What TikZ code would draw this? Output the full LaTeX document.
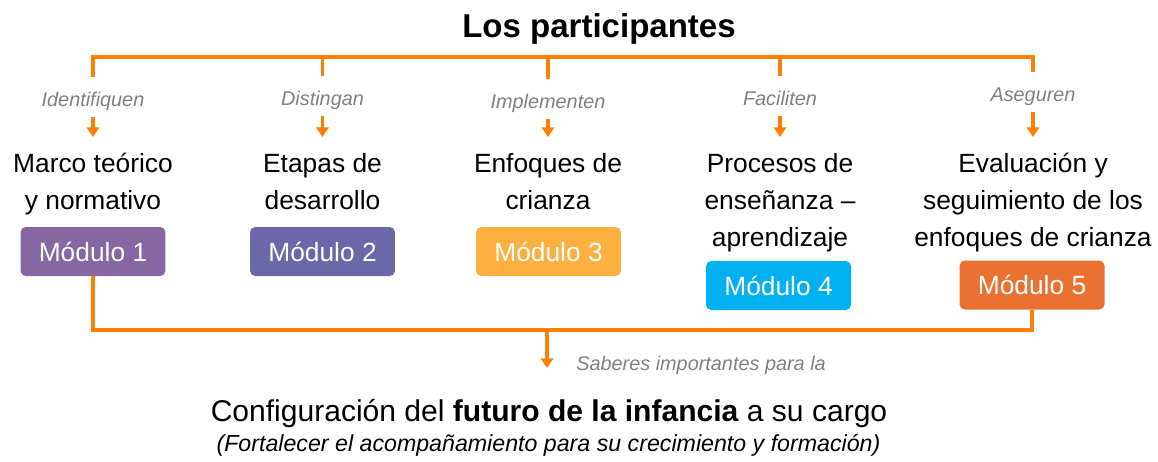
\documentclass[tikz,border=0pt]{standalone}
\usepackage{fontspec}
\setmainfont{Liberation Sans}
\usetikzlibrary{arrows.meta,positioning}
\definecolor{naranja}{RGB}{255,128,0}
\definecolor{gris}{RGB}{128,128,128}
\definecolor{modA}{RGB}{135,102,164}
\definecolor{modB}{RGB}{108,103,169}
\definecolor{modC}{RGB}{251,176,64}
\definecolor{modD}{RGB}{0,176,240}
\definecolor{modE}{RGB}{233,113,50}

\begin{document}
\begin{tikzpicture}[x=0.02cm, y=-0.02cm]
  \tikzstyle{bracket} = [naranja, line width=1.8pt]
  \tikzstyle{arrow} = [naranja, line width=1.8pt, -{Triangle[width=7pt,length=5.5pt]}]
  \tikzstyle{verbo} = [font=\fontsize{11.3}{13}\selectfont\itshape, text=gris, text height=16.4pt, text depth=6.2pt, inner sep=0pt, anchor=base]
  \tikzstyle{tema} = [font=\fontsize{15}{21}\selectfont, align=center, anchor=north, inner xsep=0pt, inner ysep=9pt]
  \tikzstyle{modulo} = [rectangle, rounded corners=3pt, minimum width=2.9cm, minimum height=0.98cm, text=white, font=\fontsize{15}{18}\selectfont]
  \useasboundingbox (0,0) rectangle (1158,461);
  \node (titulo) [font=\fontsize{18.8}{22}\selectfont\bfseries, anchor=base] at (599,37) {Los participantes};
  % top bracket
  \coordinate (ci) at (93,57);
  \coordinate (cb) at (322.5,57);
  \coordinate (cc) at (548,57);
  \coordinate (cdd) at (780,57);
  \coordinate (cd) at (1033,57);
  \node (l1) [verbo] at (93,106) {Identifiquen};
  \node (l2) [verbo] at (322.5,105) {Distingan};
  \node (l3) [verbo] at (548,108) {Implementen};
  \node (l4) [verbo] at (780,105) {Faciliten};
  \node (l5) [verbo] at (1033,101) {Aseguren};
  \node (t1) [tema] at (93,137) {Marco teórico\\y normativo};
  \node (t2) [tema] at (322.5,137) {Etapas de\\desarrollo};
  \node (t3) [tema] at (548,137) {Enfoques de\\crianza};
  \node (t4) [tema] at (780,137) {Procesos de\\enseñanza –\\aprendizaje};
  \node (t5) [tema] at (1033,137) {Evaluación y\\seguimiento de los\\enfoques de crianza};
  \node (m1) [modulo, fill=modA] at (93,251.5) {Módulo 1};
  \node (m2) [modulo, fill=modB] at (322.5,251.5) {Módulo 2};
  \node (m3) [modulo, fill=modC] at (548.5,251.5) {Módulo 3};
  \node (m4) [modulo, fill=modD] at (778.5,285.5) {Módulo 4};
  \node (m5) [modulo, fill=modE] at (1032,285) {Módulo 5};
  \draw [bracket] (l1.north) -- (ci) -- (cd) -- (l5.north);
  \foreach \c/\l in {cb/l2, cc/l3, cdd/l4}
    \draw [bracket] (\c) -- (\l.north);
  \foreach \i in {1,...,5}
    \draw [arrow] (l\i.south) -- (t\i.north);
  % bottom bracket
  \coordinate (bi) at (93,330);
  \coordinate (bc) at (547,330);
  \coordinate (bd) at (1032,330);
  \node (res) [font=\fontsize{17.1}{20}\selectfont, text height=30pt, inner sep=0pt, anchor=base] at (549,421) {Configuración del \textbf{futuro de la infancia} a su cargo};
  \node (sub) [font=\fontsize{13.2}{16}\selectfont\itshape, anchor=base] at (548.5,451) {(Fortalecer el acompañamiento para su crecimiento y formación)};
  \node (sab) [verbo, anchor=base west] at (576,370) {Saberes importantes para la};
  \draw [bracket] (m1.south) -- (bi) -- (bd) -- (m5.south);
  \draw [arrow] (bc) -- (bc |- res.north);
\end{tikzpicture}
\end{document}
